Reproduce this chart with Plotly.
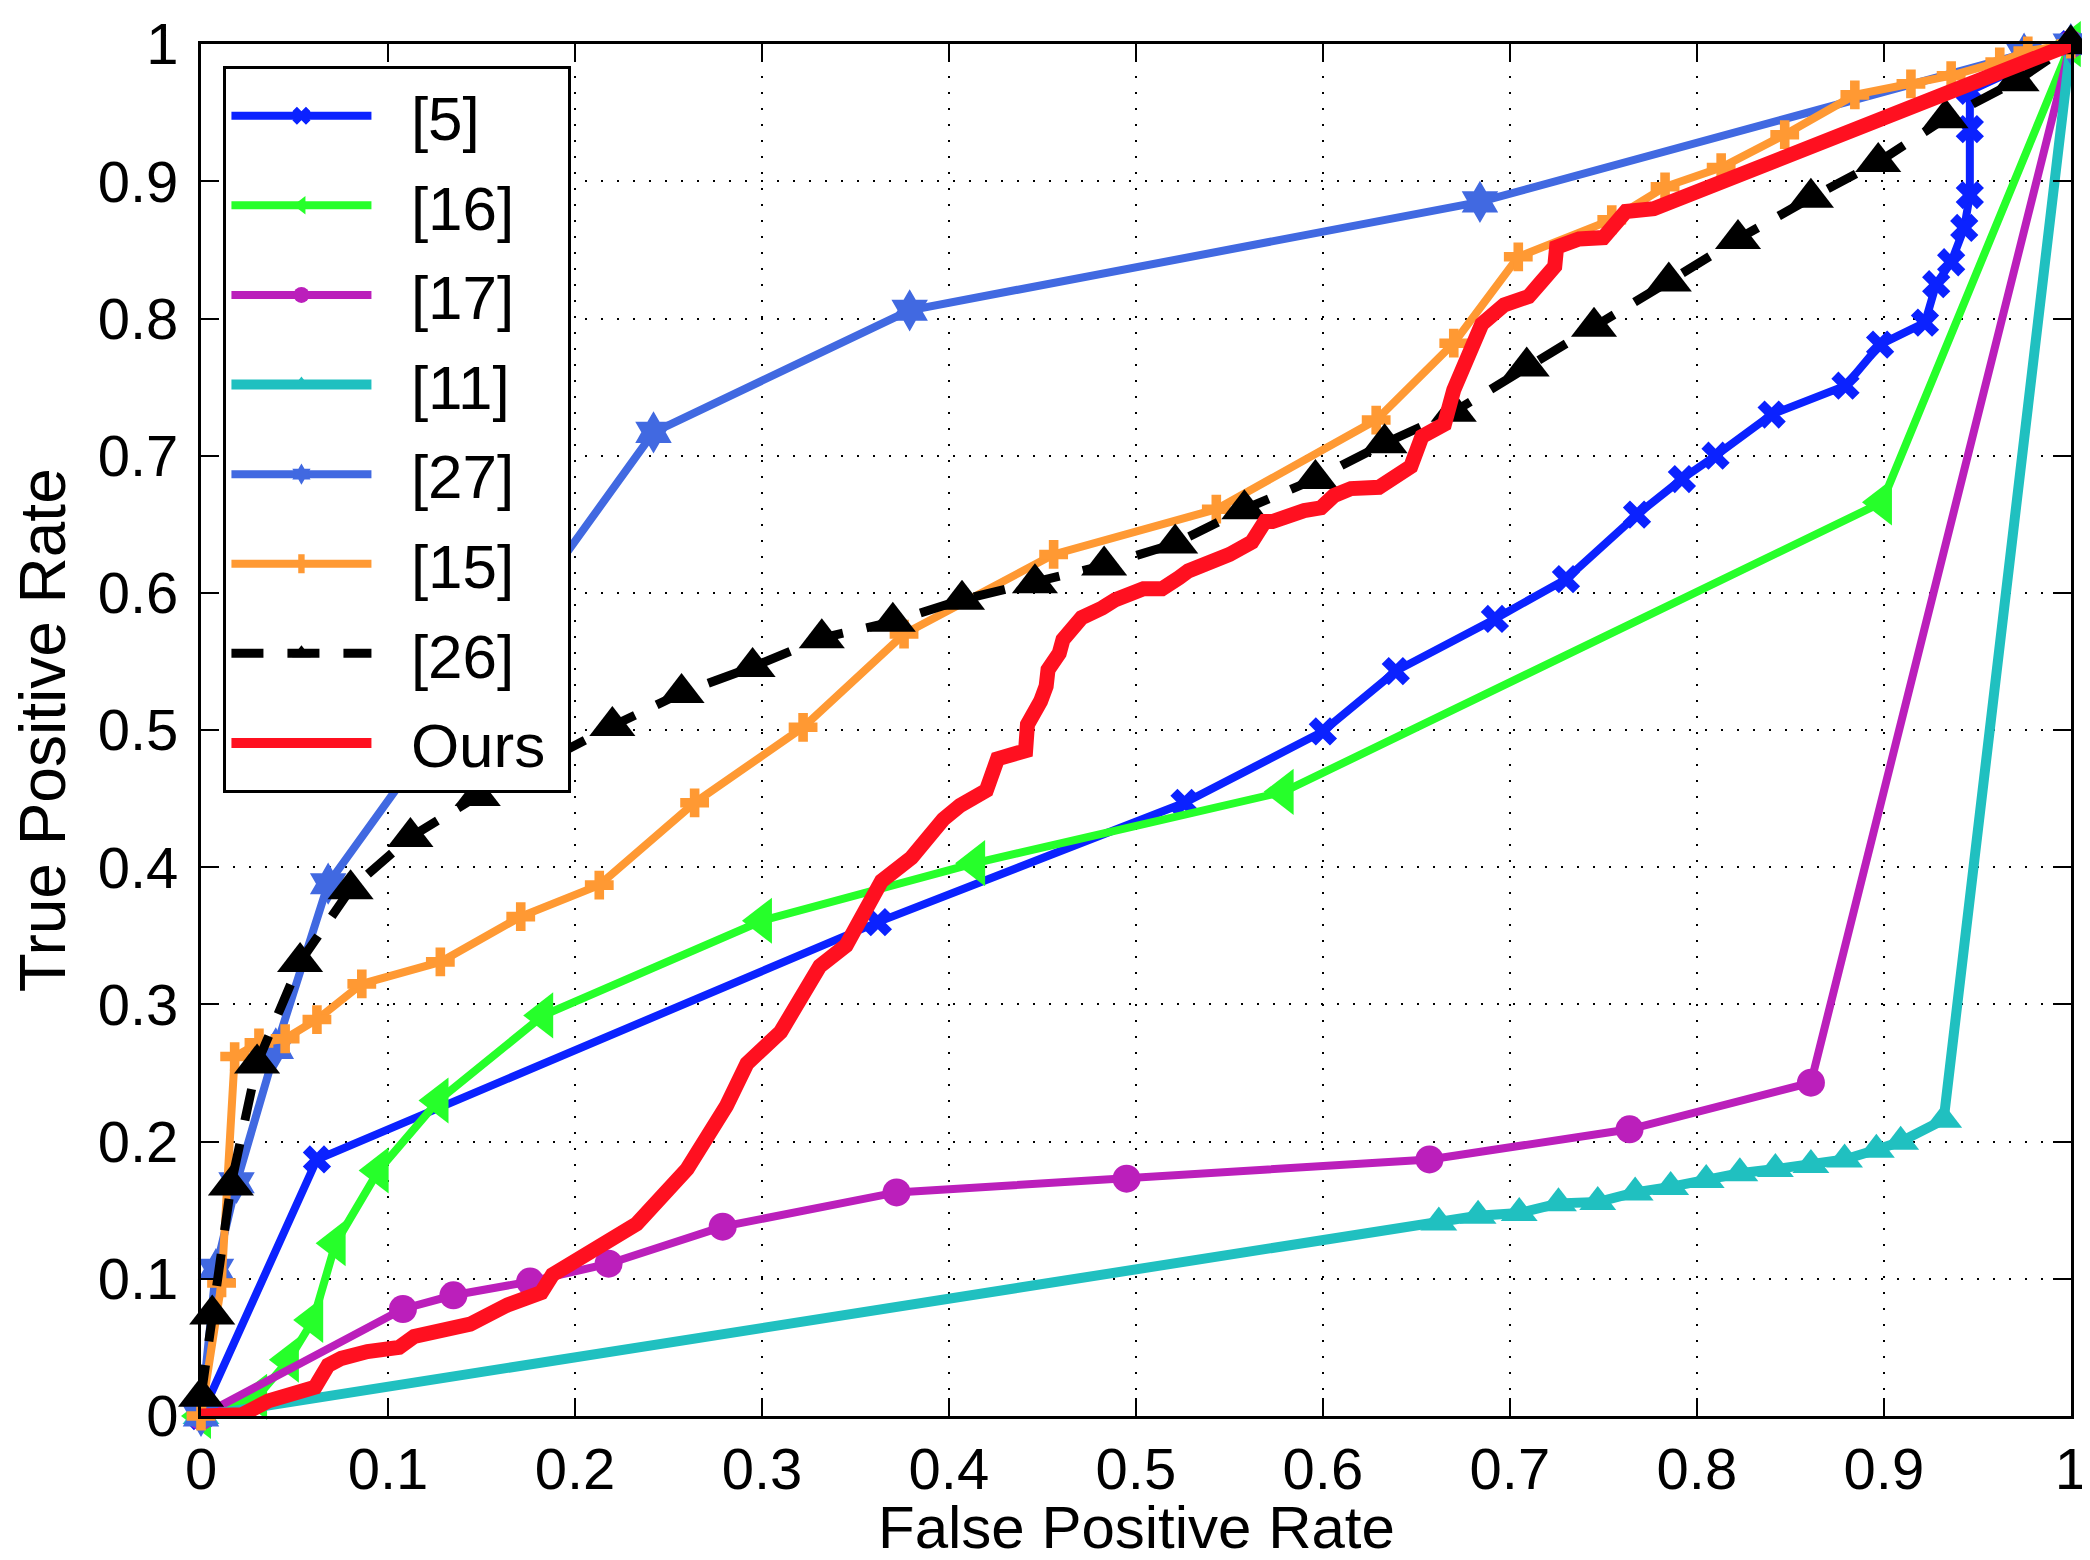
import plotly.graph_objects as go

# ROC curves (FPR, TPR)
s5_fpr = [0, 0.062, 0.362, 0.526, 0.600, 0.639, 0.692, 0.730, 0.768, 0.792, 0.810, 0.840,
          0.8795, 0.898, 0.922, 0.928, 0.936, 0.943, 0.946, 0.946, 0.946, 1]
s5_tpr = [0, 0.187, 0.360, 0.447, 0.499, 0.543, 0.581, 0.610, 0.657, 0.683, 0.700, 0.730,
          0.751, 0.781, 0.797, 0.825, 0.841, 0.866, 0.890, 0.938, 0.966, 1]

s16_fpr = [0, 0.030, 0.047, 0.060, 0.072, 0.095, 0.127, 0.183, 0.300, 0.414, 0.579, 0.899, 1]
s16_tpr = [0, 0.014, 0.041, 0.070, 0.126, 0.179, 0.230, 0.292, 0.361, 0.403, 0.455, 0.666, 1]

s17_fpr = [0, 0.108, 0.135, 0.176, 0.218, 0.279, 0.372, 0.495, 0.657, 0.764, 0.861, 1]
s17_tpr = [0, 0.078, 0.088, 0.098, 0.111, 0.138, 0.163, 0.173, 0.187, 0.209, 0.243, 1]

s11_fpr = [0, 0.662, 0.683, 0.705, 0.726, 0.747, 0.767, 0.786, 0.805, 0.823, 0.842, 0.861,
           0.879, 0.896, 0.909, 0.932, 1]
s11_tpr = [0, 0.141, 0.146, 0.148, 0.155, 0.156, 0.163, 0.167, 0.172, 0.177, 0.180, 0.183,
           0.187, 0.194, 0.200, 0.216, 1]

s27_fpr = [0, 0.008, 0.019, 0.040, 0.068, 0.242, 0.379, 0.684, 0.975, 1]
s27_tpr = [0, 0.107, 0.170, 0.268, 0.388, 0.717, 0.806, 0.885, 0.993, 1]

s15_fpr = [0, 0.011, 0.018, 0.031, 0.045, 0.062, 0.086, 0.128, 0.171, 0.213, 0.264, 0.322,
           0.376, 0.456, 0.543, 0.6285, 0.670, 0.7045, 0.7545, 0.783, 0.813, 0.847, 0.8845,
           0.9145, 0.936, 0.962, 0.977, 1]
s15_tpr = [0, 0.097, 0.262, 0.272, 0.275, 0.289, 0.315, 0.331, 0.364, 0.387, 0.447, 0.502,
           0.570, 0.628, 0.661, 0.726, 0.782, 0.845, 0.872, 0.896, 0.910, 0.934, 0.963,
           0.971, 0.977, 0.987, 0.995, 1]

s26_fpr = [0, 0.006, 0.016, 0.030, 0.053, 0.080, 0.112, 0.148, 0.184, 0.220, 0.257, 0.295,
           0.332, 0.370, 0.407, 0.446, 0.483, 0.521, 0.558, 0.596, 0.633, 0.670, 0.709,
           0.745, 0.785, 0.822, 0.861, 0.897, 0.933, 0.971, 1]
s26_tpr = [0.014, 0.074, 0.168, 0.257, 0.331, 0.384, 0.422, 0.452, 0.478, 0.503, 0.527, 0.546,
           0.567, 0.579, 0.595, 0.607, 0.620, 0.636, 0.661, 0.683, 0.709, 0.732, 0.765,
           0.794, 0.827, 0.858, 0.888, 0.914, 0.946, 0.973, 1]

ours_fpr = [0, 0.022, 0.036, 0.061, 0.068, 0.075, 0.089, 0.106, 0.114, 0.144, 0.164, 0.182,
            0.188, 0.233, 0.260, 0.281, 0.292, 0.310, 0.331, 0.345, 0.364, 0.380, 0.397,
            0.406, 0.420, 0.426, 0.441, 0.442, 0.449, 0.452, 0.453, 0.459, 0.461, 0.468,
            0.471, 0.482, 0.489, 0.504, 0.514, 0.523, 0.528, 0.550, 0.562, 0.569, 0.573,
            0.590, 0.599, 0.606, 0.615, 0.630, 0.638, 0.647, 0.653, 0.665, 0.670, 0.685,
            0.697, 0.710, 0.717, 0.724, 0.725, 0.737, 0.750, 0.757, 0.762, 0.777, 1]
ours_tpr = [0, 0.001, 0.011, 0.021, 0.037, 0.042, 0.047, 0.050, 0.058, 0.067, 0.081, 0.090,
            0.103, 0.140, 0.180, 0.226, 0.257, 0.280, 0.328, 0.343, 0.390, 0.407, 0.435,
            0.445, 0.456, 0.479, 0.485, 0.504, 0.521, 0.532, 0.544, 0.556, 0.566, 0.576,
            0.582, 0.589, 0.595, 0.603, 0.603, 0.611, 0.616, 0.628, 0.637, 0.652, 0.652,
            0.660, 0.662, 0.671, 0.676, 0.677, 0.685, 0.692, 0.714, 0.723, 0.748, 0.796,
            0.810, 0.816, 0.827, 0.838, 0.852, 0.858, 0.859, 0.870, 0.878, 0.880, 1]

tick_vals = [0, 0.1, 0.2, 0.3, 0.4, 0.5, 0.6, 0.7, 0.8, 0.9, 1]
tick_text = ['0', '0.1', '0.2', '0.3', '0.4', '0.5', '0.6', '0.7', '0.8', '0.9', '1']

FONT = 'Liberation Sans, Arial, sans-serif'
PAD = '\u00a0'  # pads legend labels so the box gets the reference's width

series = [
    ('[5]', s5_fpr, s5_tpr, '#0B22FF', 'x', 25, 8, 'solid'),
    ('[16]', s16_fpr, s16_tpr, '#26FF2A', 'triangle-left', 40, 8, 'solid'),
    ('[17]', s17_fpr, s17_tpr, '#BB1FBB', 'circle', 28, 8, 'solid'),
    ('[11]', s11_fpr, s11_tpr, '#20C0C0', 'triangle-up', 32, 10, 'solid'),
    ('[27]', s27_fpr, s27_tpr, '#4169E1', 'hexagram', 32, 8, 'solid'),
    ('[15]', s15_fpr, s15_tpr, '#FF9933', 'cross', 24, 8, 'solid'),
    ('[26]', s26_fpr, s26_tpr, '#000000', 'triangle-up', 40, 9, '32px,24px'),
]

fig = go.Figure()
for name, xs, ys, color, sym, msize, lw, dash in series:
    fig.add_trace(go.Scatter(
        x=xs, y=ys, name=PAD * 2 + name + PAD, mode='lines+markers',
        line=dict(color=color, width=lw, dash=dash),
        marker=dict(symbol=sym, size=msize, color=color),
        cliponaxis=False, legendgroup=name,
    ))

fig.add_trace(go.Scatter(
    x=ours_fpr, y=ours_tpr, name=PAD * 2 + 'Ours' + PAD, mode='lines',
    line=dict(color='#FF1020', width=15),
    cliponaxis=False, legendgroup='Ours',
))

axis_style = dict(
    range=[0, 1.0001],
    tickvals=tick_vals,
    ticktext=tick_text,
    ticks='inside',
    ticklen=18,
    tickwidth=2,
    tickcolor='black',
    showline=True,
    linecolor='black',
    linewidth=3,
    mirror='ticks',
    showgrid=True,
    gridcolor='black',
    gridwidth=2,
    griddash='2px,14px',
    zeroline=False,
    automargin=False,
    ticklabeloverflow='allow',
    tickfont=dict(family=FONT, size=58, color='black'),
)

fig.update_layout(
    width=2090,
    height=1560,
    paper_bgcolor='white',
    plot_bgcolor='white',
    margin=dict(l=193, r=27, t=36, b=152, autoexpand=False),
    font=dict(family=FONT, color='black'),
    xaxis=dict(axis_style),
    yaxis=dict(axis_style, ticklabelstandoff=8),
    legend=dict(
        x=0.012, y=0.984, xanchor='left', yanchor='top',
        bgcolor='white', bordercolor='black', borderwidth=3,
        font=dict(family=FONT, size=62, color='black'),
        tracegroupgap=6, itemwidth=140,
    ),
    showlegend=True,
)

# axis titles placed as paper annotations (margins are tight)
fig.add_annotation(text='False Positive Rate', xref='paper', yref='paper',
                   x=0.5, y=-0.0816, xanchor='center', yanchor='middle',
                   showarrow=False, font=dict(family=FONT, size=60, color='black'))
fig.add_annotation(text='True Positive Rate', xref='paper', yref='paper',
                   x=-0.1025, y=0.5, xanchor='left', yanchor='middle', textangle=-90,
                   height=64, valign='middle',
                   showarrow=False, font=dict(family=FONT, size=64, color='black'))

fig.write_html('out.html')
